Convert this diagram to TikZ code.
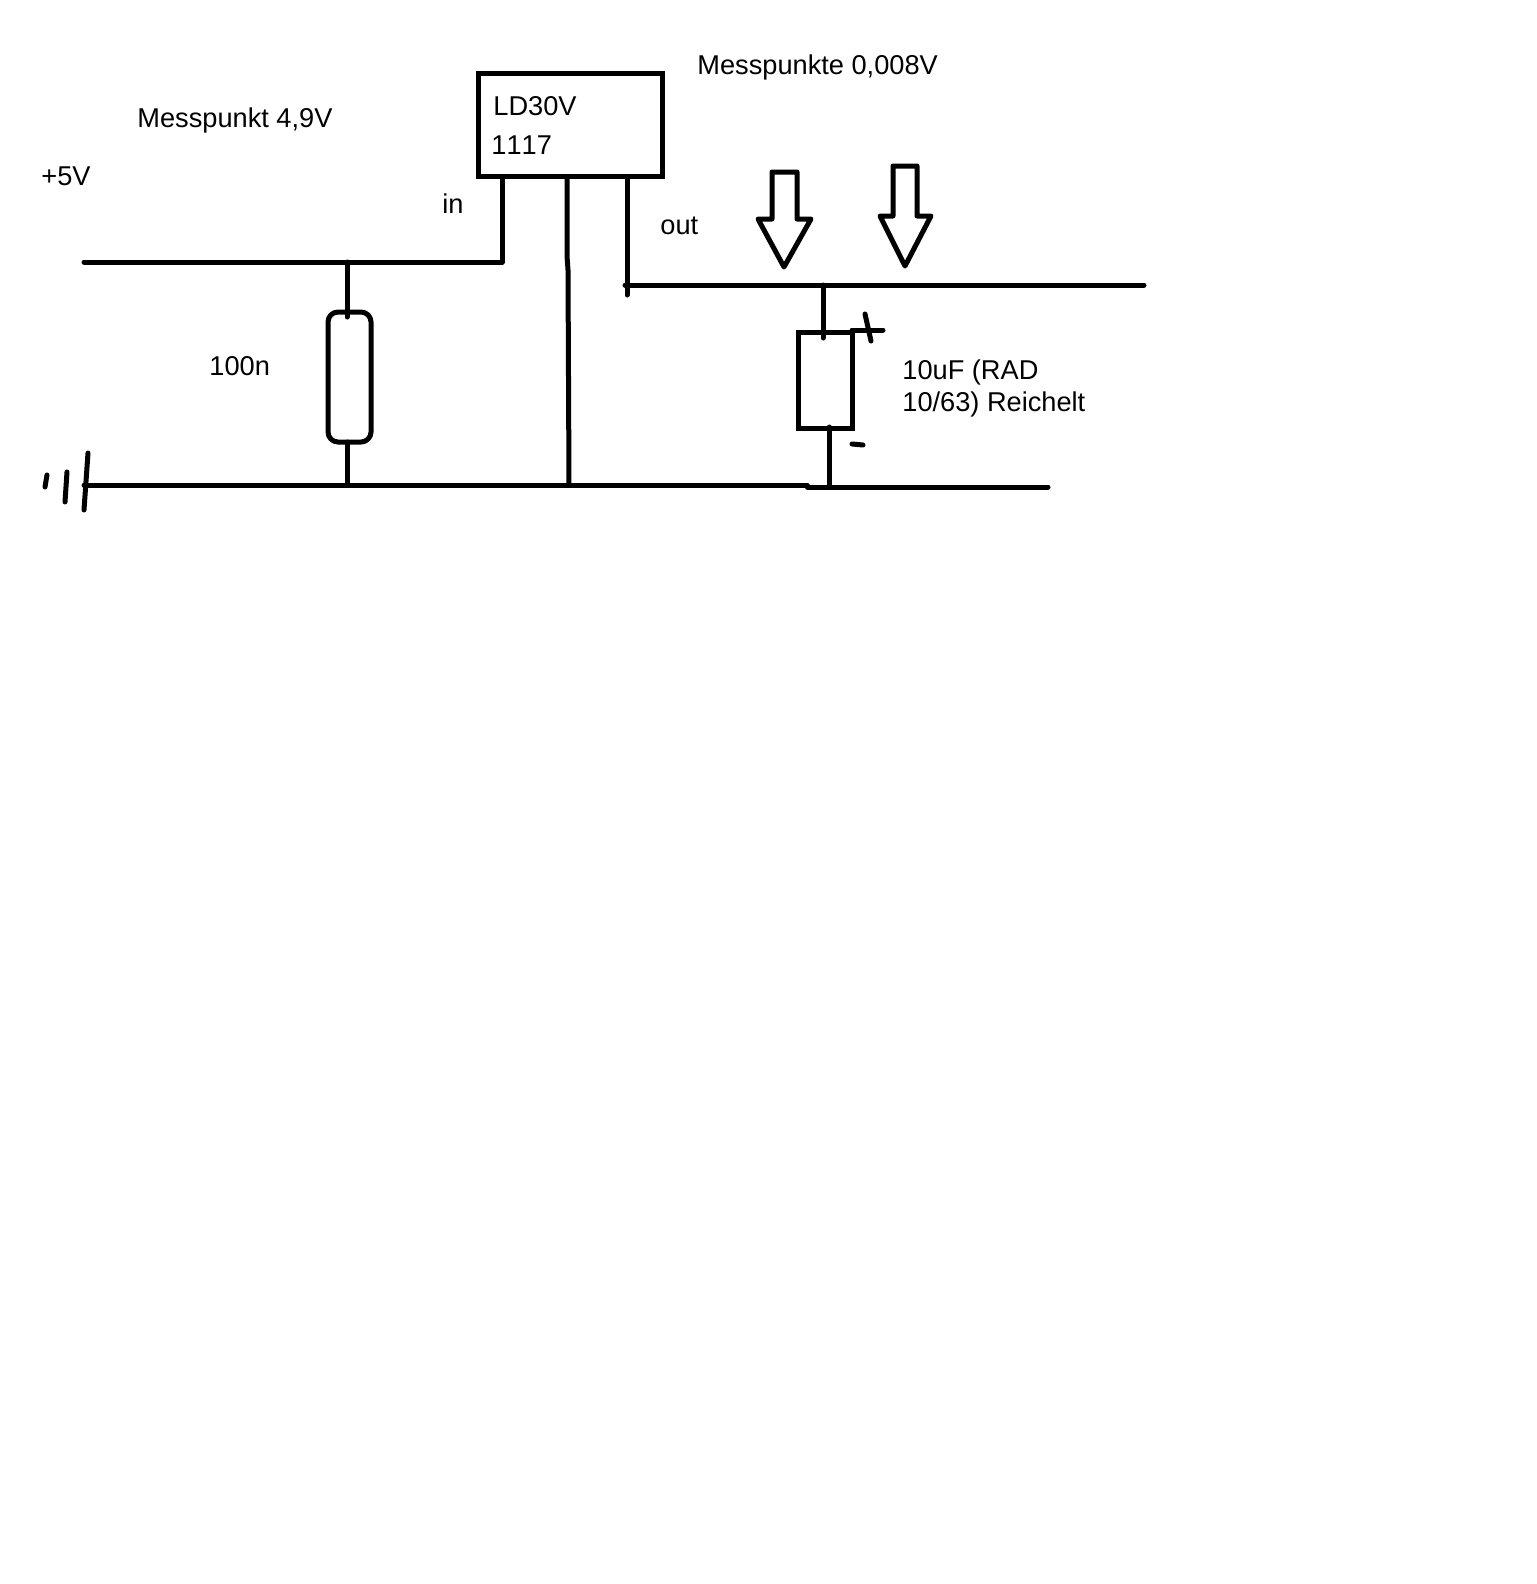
\documentclass[tikz,border=0pt]{standalone}
\usepackage{fontspec}
\setmainfont[Kerning=Off]{Liberation Sans}
\tikzset{
	wire/.style={line width=2.5pt,line cap=round,line join=round},
	part/.style={draw,line width=2.5pt,inner sep=0pt,fill=white},
	txt/.style={anchor=base west,inner sep=0pt,font=\fontsize{13.6}{16}\selectfont}
}

\begin{document}
\begin{tikzpicture}[x=0.5pt,y=-0.5pt]
	\useasboundingbox (0,0) rectangle (1536,1584);

	\coordinate (vin) at (84,262);
	\coordinate (vinj) at (347,262);
	\coordinate (vinr) at (502,262);
	\coordinate (pinin) at (502,176);
	\coordinate (pingnd) at (567,176);
	\coordinate (pinout) at (627,176);
	\coordinate (gndl) at (84,485);
	\coordinate (gndr) at (347,485);
	\coordinate (gndm) at (569,485);
	\coordinate (gndj) at (807,485);
	\coordinate (gndk) at (807,487);
	\coordinate (gndc) at (829,487);
	\coordinate (gnde) at (1048,487);
	\coordinate (outl) at (625,285);
	\coordinate (outj) at (823,285);
	\coordinate (oute) at (1144,285);
	\coordinate (outp) at (627,295);

	\draw [wire] (vin) -- (vinr) -- (pinin);
	\draw [wire] (pingnd) -- (567,256) -- (568,270) -- (gndm);
	\draw [wire] (pinout) -- (outp);
	\draw [wire] (outl) -- (oute);
	\draw [wire] (gndl) -- (gndj) -- (gndk) -- (gnde);

	\node [part,minimum width=92pt,minimum height=51.5pt] (reg) at (570,125) {};
	\node [part,rounded corners=5pt,minimum width=21.5pt,minimum height=65pt] (cin) at (349.5,377) {};
	\node [part,minimum width=27pt,minimum height=48pt] (cout) at (825,380) {};

	\draw [wire] (vinj) -- (347,317);
	\draw [wire] (347,442) -- (gndr);
	\draw [wire] (outj) -- (823,338);
	\draw [wire] (829,427) -- (gndc);

	% ground
	\draw [wire] (47,475) -- (45,487);
	\draw [wire] (67,472) -- (65,502);
	\draw [wire] (88,453) -- (84,510);

	% plus, minus
	\draw [wire] (852,330) -- (883,330);
	\draw [wire] (865,314) -- (871,341);
	\draw [wire] (852,444) -- (863,445);

	% messpunkte
	\draw [wire] (772,172) -- (797,172) -- (797,219) -- (811,219) -- (784,267) -- (758,219) -- (772,219) -- cycle;
	\draw [wire] (893,166) -- (917,166) -- (917,216) -- (931,216) -- (905,266) -- (880,216) -- (893,216) -- cycle;

	\node [txt] (lblfive) at (41,185) {+5V};
	\node [txt] (lblmess) at (137,127) {Messpunkt 4,9V};
	\node [txt] (lblin) at (442,213) {in};
	\node [txt] (lblld) at (493,116) {LD30V};
	\node [txt] (lblnum) at (491,155) {1117};
	\node [txt] (lblout) at (660,234) {out};
	\node [txt] (lblmesse) at (697,75) {Messpunkte 0,008V};
	\node [txt] (lblcin) at (209,375) {100n};
	\node [txt] (lbla) at (902,379) {10uF (RAD};
	\node [txt] (lblb) at (902,411) {10/63) Reichelt};
\end{tikzpicture}
\end{document}
